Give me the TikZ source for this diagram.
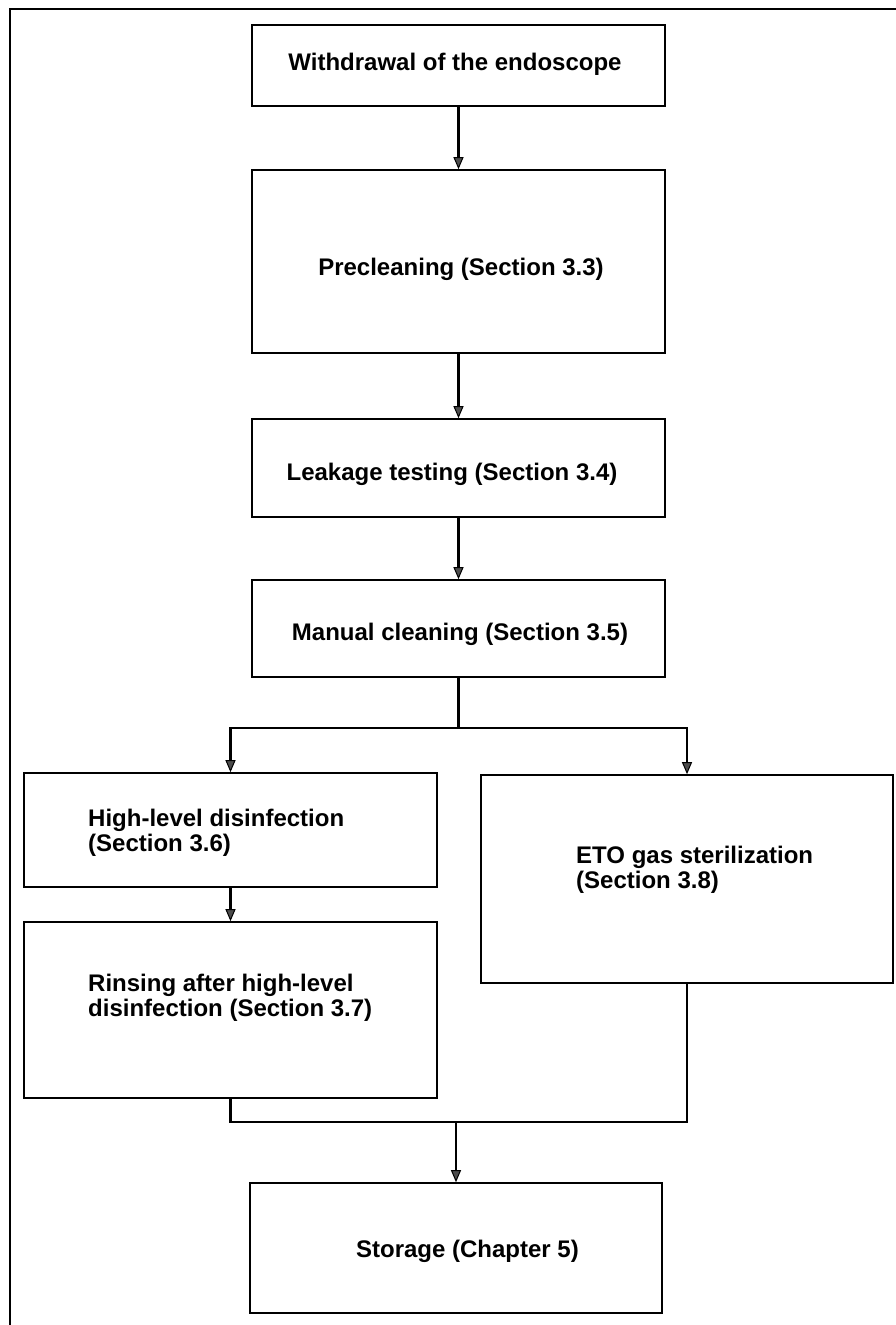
\documentclass[tikz,border=0pt]{standalone}
\usepackage{fontspec}
\setmainfont{Liberation Sans}
\usetikzlibrary{arrows.meta}
\begin{document}
\begin{tikzpicture}[x=1pt,y=-1pt,
  box/.style={draw=black, line width=1.6pt, fill=white, rectangle, inner sep=0pt},
  lbl/.style={inner sep=0pt, font=\fontsize{24}{24.5}\selectfont\bfseries},
  txt/.style={lbl, anchor=west, align=left},
  conn/.style={draw=black, line width=2.5pt},
  arr/.style={conn, -{Triangle[length=12pt,width=10pt,fill=black!70,line width=1pt]}}]
\useasboundingbox (0,0) rectangle (895,1325);
\fill[white] (0,0) rectangle (895,1325);
% frame
\draw[line width=1.6pt] (10,1330) -- (10,9) -- (900,9);
% boxes
\node[box, minimum width=413pt, minimum height=81pt] (b1) at (458.5,65.5) {};
\node[box, minimum width=413pt, minimum height=183pt] (b2) at (458.5,261.5) {};
\node[box, minimum width=413pt, minimum height=98pt] (b3) at (458.5,468) {};
\node[box, minimum width=413pt, minimum height=97pt] (b4) at (458.5,628.5) {};
\node[box, minimum width=413pt, minimum height=114pt] (b5) at (230.5,830) {};
\node[box, minimum width=413pt, minimum height=176pt] (b6) at (230.5,1010) {};
\node[box, minimum width=412pt, minimum height=208pt] (b7) at (687,879) {};
\node[box, minimum width=412pt, minimum height=130pt] (b8) at (456,1248) {};
% texts
\node[lbl] (t1) at (455,64) {Withdrawal of the endoscope};
\node[lbl] (t2) at (461,269) {Precleaning (Section 3.3)};
\node[lbl] (t3) at (452,474) {Leakage testing (Section 3.4)};
\node[lbl] (t4) at (460,634) {Manual cleaning (Section 3.5)};
\node[txt] (t5) at (88,833) {High-level disinfection\\(Section 3.6)};
\node[txt] (t6) at (88,998) {Rinsing after high-level\\disinfection (Section 3.7)};
\node[txt] (t7) at (576,870) {ETO gas sterilization\\(Section 3.8)};
\node[lbl] (t8) at (467.5,1251) {Storage (Chapter 5)};
% connectors
\coordinate (split) at (458.5,728);
\coordinate (join) at (456,1122);
\draw[arr] (b1.south) -- (b2.north);
\draw[arr] (b2.south) -- (b3.north);
\draw[arr] (b3.south) -- (b4.north);
\draw[conn] (b4.south) -- (split);
\draw[arr] (split) -| (b5.north);
\draw[arr] (split) -| (b7.north);
\draw[arr] (b5.south) -- (b6.north);
\draw[conn] (b6.south) |- (join);
\draw[conn] (b7.south) |- (join);
\draw[arr] (join) -- (b8.north);
\end{tikzpicture}
\end{document}
